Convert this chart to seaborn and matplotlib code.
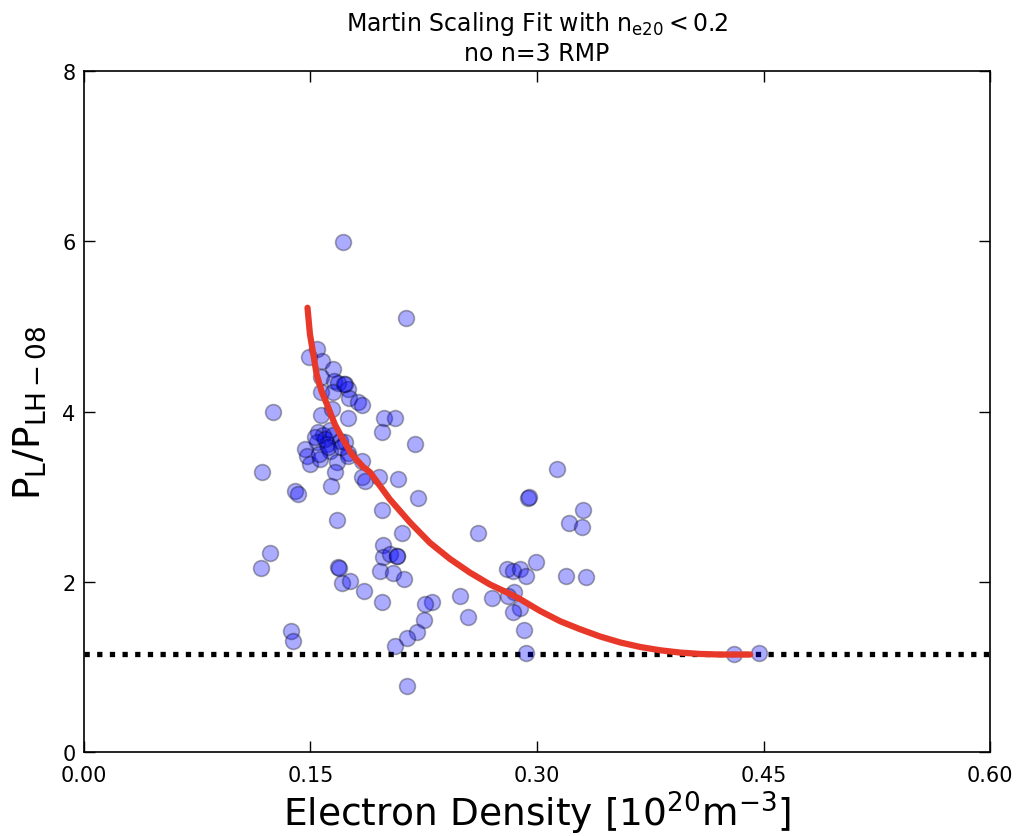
import numpy as np
import pandas as pd
import matplotlib
matplotlib.use("Agg")
import matplotlib.pyplot as plt
import seaborn as sns

# shot data: electron density [1e20 m^-3] and P_L / P_LH-08
density = [
    0.1717, 0.2130, 0.1541, 0.1490, 0.1574, 0.1647, 0.1567, 0.1658, 0.1728, 0.1684,
    0.1750, 0.1567, 0.1651, 0.1757, 0.1817, 0.1839, 0.1570, 0.1640, 0.1746, 0.1989,
    0.2060, 0.1971, 0.2192, 0.1552, 0.1585, 0.1629, 0.1651, 0.1695, 0.1728, 0.1541,
    0.1607, 0.1750, 0.1629, 0.1464, 0.1475, 0.1497, 0.1563, 0.1673, 0.1750, 0.1839,
    0.1662, 0.1839, 0.1861, 0.1956, 0.2082, 0.1634, 0.2214, 0.1397, 0.1419, 0.1976,
    0.1678, 0.2104, 0.3130, 0.2943, 0.2950, 0.3307, 0.3214, 0.3296, 0.2607, 0.1978,
    0.1978, 0.2026, 0.2071, 0.1960, 0.2049, 0.2119, 0.1684, 0.1706, 0.1762, 0.1854,
    0.1971, 0.2303, 0.2258, 0.2254, 0.2203, 0.2137, 0.2060, 0.2137, 0.2490, 0.2541,
    0.2704, 0.2799, 0.2843, 0.2887, 0.2927, 0.2991, 0.2850, 0.2810, 0.2887, 0.2839,
    0.2916, 0.2925, 0.3192, 0.3325, 0.1375, 0.1382, 0.1254, 0.1181, 0.1236, 0.1170,
    0.4305, 0.4470, 0.1530, 0.1600, 0.1560, 0.1618, 0.1700, 0.1690, 0.2073, 0.1720,
]
power_ratio = [
    5.99, 5.10, 4.73, 4.64, 4.60, 4.50, 4.41, 4.36, 4.32, 4.34,
    4.26, 4.23, 4.23, 4.16, 4.11, 4.08, 3.96, 4.03, 3.92, 3.93,
    3.92, 3.76, 3.62, 3.76, 3.72, 3.79, 3.72, 3.66, 3.64, 3.64,
    3.62, 3.52, 3.54, 3.56, 3.48, 3.38, 3.44, 3.41, 3.48, 3.42,
    3.29, 3.23, 3.19, 3.23, 3.21, 3.13, 2.99, 3.07, 3.03, 2.85,
    2.73, 2.57, 3.33, 2.99, 3.00, 2.85, 2.69, 2.65, 2.57, 2.43,
    2.29, 2.33, 2.31, 2.13, 2.11, 2.04, 2.17, 1.99, 2.01, 1.89,
    1.77, 1.77, 1.74, 1.55, 1.41, 1.34, 1.25, 0.78, 1.84, 1.59,
    1.81, 2.15, 2.13, 2.15, 2.07, 2.23, 1.88, 1.84, 1.70, 1.65,
    1.44, 1.17, 2.07, 2.06, 1.43, 1.31, 4.00, 3.29, 2.34, 2.16,
    1.16, 1.17, 3.70, 3.68, 3.50, 3.58, 3.58, 2.16, 2.30, 4.33,
]

# Martin scaling fit curve
fit_density = [0.1481, 0.1497, 0.1519, 0.1541, 0.1574, 0.1618, 0.1662, 0.1707,
               0.1773, 0.1850, 0.1894, 0.2026, 0.2159, 0.2291, 0.2424, 0.2556,
               0.2689, 0.2821, 0.2887, 0.3020, 0.3152, 0.3285, 0.3417, 0.3550,
               0.3682, 0.3815, 0.3947, 0.4079, 0.4212, 0.4411]
fit_ratio = [5.22, 4.91, 4.68, 4.44, 4.24, 4.05, 3.85, 3.70,
             3.50, 3.35, 3.29, 2.97, 2.70, 2.46, 2.27, 2.11,
             1.97, 1.86, 1.80, 1.66, 1.54, 1.445, 1.36, 1.29,
             1.237, 1.198, 1.171, 1.155, 1.148, 1.148]

threshold = 1.15

df = pd.DataFrame({"ne": density, "ratio": power_ratio})
fit = pd.DataFrame({"ne": fit_density, "ratio": fit_ratio})

sns.set_style("ticks", {"xtick.direction": "in", "ytick.direction": "in"})
plt.rcParams["font.family"] = ["DejaVu Sans"]
plt.rcParams["text.color"] = "black"
plt.rcParams["axes.labelcolor"] = "black"

fig, ax = plt.subplots(figsize=(10.21, 8.37), dpi=100)
fig.subplots_adjust(left=0.082, right=0.970, bottom=0.100, top=0.914)

sns.scatterplot(data=df, x="ne", y="ratio", ax=ax, s=130, color="blue",
                alpha=0.33, edgecolor="black", linewidth=1.2, zorder=2)
sns.lineplot(data=fit, x="ne", y="ratio", ax=ax, color="#e8382a",
             linewidth=4.5, zorder=3, sort=True)
ax.axhline(threshold, color="black", linestyle=(0, (1, 1.4)), linewidth=3.8, zorder=1)

ax.set_xlim(0, 0.6)
ax.set_ylim(0, 8)
ax.set_xticks([0.0, 0.15, 0.30, 0.45, 0.60])
ax.set_xticklabels(["0.00", "0.15", "0.30", "0.45", "0.60"])
ax.set_yticks([0, 2, 4, 6, 8])
ax.tick_params(labelsize=15, length=8, width=1, top=True, right=True,
               direction="in", pad=6, colors="black")
ax.tick_params(axis="x", pad=9)
for s in ax.spines.values():
    s.set_visible(True)
    s.set_linewidth(1.2)
    s.set_color("black")

ax.set_xlabel(r"Electron Density [$\mathregular{10^{20}m^{-3}}$]", fontsize=27, labelpad=3)
ax.set_ylabel(r"$\mathregular{P_L/P_{LH-08}}$", fontsize=27, labelpad=10)
ax.set_title("Martin Scaling Fit with $\\mathregular{n_{e20} < 0.2}$\nno n=3 RMP",
             fontsize=17, pad=8, color="black")

fig.savefig("out.png", dpi=100)
